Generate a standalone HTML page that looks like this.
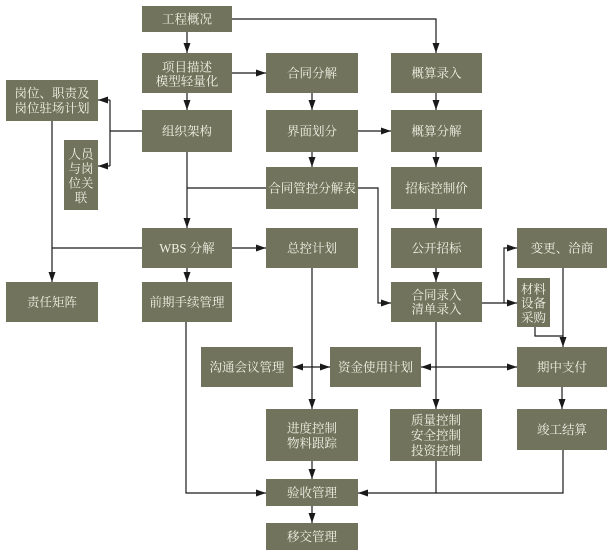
<!DOCTYPE html>
<html><head><meta charset="utf-8"><style>
html,body{margin:0;padding:0;background:#fff;}
svg{display:block;}
text{font-family:"Liberation Serif","Noto Serif CJK SC",serif;font-size:12.5px;fill:#f2f2e6;text-anchor:middle;}
</style></head><body>
<svg width="612" height="555" viewBox="0 0 612 555" xmlns="http://www.w3.org/2000/svg">
<defs>
<marker id="a" markerWidth="10" markerHeight="7" refX="10" refY="3.5" orient="auto-start-reverse" markerUnits="userSpaceOnUse"><path d="M0,0 L10,3.5 L0,7 z" fill="#1a1a1a"/></marker>
</defs>
<g fill="#71735c">
<rect x="142" y="6" width="90" height="26"/>
<rect x="142" y="53" width="90" height="40"/>
<rect x="142" y="110" width="90" height="42"/>
<rect x="266" y="53" width="92" height="40"/>
<rect x="266" y="110" width="92" height="42"/>
<rect x="266" y="167" width="92" height="42"/>
<rect x="391" y="53" width="91" height="40"/>
<rect x="391" y="110" width="91" height="42"/>
<rect x="391" y="167" width="91" height="42"/>
<rect x="6" y="80" width="92" height="41"/>
<rect x="64" y="140" width="34" height="70"/>
<rect x="142" y="228" width="90" height="40"/>
<rect x="6" y="282" width="92" height="40"/>
<rect x="142" y="282" width="90" height="40"/>
<rect x="266" y="228" width="92" height="40"/>
<rect x="391" y="228" width="91" height="40"/>
<rect x="391" y="282" width="91" height="40"/>
<rect x="517" y="228" width="90" height="40"/>
<rect x="517" y="278" width="33" height="49"/>
<rect x="201" y="347" width="92" height="40"/>
<rect x="330" y="347" width="91" height="40"/>
<rect x="517" y="347" width="90" height="40"/>
<rect x="266" y="409" width="92" height="52"/>
<rect x="390" y="409" width="92" height="52"/>
<rect x="517" y="409" width="90" height="41"/>
<rect x="266" y="479" width="92" height="27"/>
<rect x="266" y="523" width="92" height="27"/>
</g>
<g fill="none" stroke="#1a1a1a" stroke-width="1.2">
<path d="M232,19 H436 V53" marker-end="url(#a)"/>
<path d="M187,32 V53" marker-end="url(#a)"/>
<path d="M232,73 H266" marker-end="url(#a)"/>
<path d="M187,93 V110" marker-end="url(#a)"/>
<path d="M312,93 V110" marker-end="url(#a)"/>
<path d="M358,131 H391" marker-end="url(#a)"/>
<path d="M312,152 V167" marker-end="url(#a)"/>
<path d="M436,93 V110" marker-end="url(#a)"/>
<path d="M436,152 V167" marker-end="url(#a)"/>
<path d="M436,209 V228" marker-end="url(#a)"/>
<path d="M436,268 V282" marker-end="url(#a)"/>
<path d="M358,188 H378 V303 H391" marker-end="url(#a)"/>
<path d="M142,131 H110"/>
<path d="M110,100 V166"/>
<path d="M110,100 H98" marker-end="url(#a)"/>
<path d="M110,166 H98" marker-end="url(#a)"/>
<path d="M187,152 V228" marker-end="url(#a)"/>
<path d="M187,188 H266"/>
<path d="M142,248 H52"/>
<path d="M52,121 V282" marker-end="url(#a)"/>
<path d="M232,248 H266" marker-end="url(#a)"/>
<path d="M187,268 V282" marker-end="url(#a)"/>
<path d="M186,322 V493 H266" marker-end="url(#a)"/>
<path d="M312,268 V409" marker-end="url(#a)"/>
<path d="M293,367 H330" marker-start="url(#a)" marker-end="url(#a)"/>
<path d="M436,322 V409" marker-end="url(#a)"/>
<path d="M421,367 H517" marker-start="url(#a)" marker-end="url(#a)"/>
<path d="M482,303 H517" marker-end="url(#a)"/>
<path d="M504,303 V248 H517" marker-end="url(#a)"/>
<path d="M563,268 V347" marker-end="url(#a)"/>
<path d="M535,327 V336 H563"/>
<path d="M562,387 V409" marker-end="url(#a)"/>
<path d="M312,461 V479" marker-end="url(#a)"/>
<path d="M436,461 V493"/>
<path d="M563,450 V493 H358" marker-end="url(#a)"/>
<path d="M312,506 V523" marker-end="url(#a)"/>
</g>
<g>
<text x="187" y="23.5">工程概况</text>
<text x="187" y="71.5">项目描述</text>
<text x="187" y="85.5">模型轻量化</text>
<text x="187" y="135.5">组织架构</text>
<text x="312" y="77.5">合同分解</text>
<text x="312" y="135.5">界面划分</text>
<text x="312" y="192.5">合同管控分解表</text>
<text x="436.5" y="77.5">概算录入</text>
<text x="436.5" y="135.5">概算分解</text>
<text x="436.5" y="192.5">招标控制价</text>
<text x="52" y="97.5">岗位、职责及</text>
<text x="52" y="112.5">岗位驻场计划</text>
<text x="81" y="158.5">人员</text>
<text x="81" y="173">与岗</text>
<text x="81" y="187.5">位关</text>
<text x="81" y="202">联</text>
<text x="187" y="252.5">WBS 分解</text>
<text x="52" y="306.5">责任矩阵</text>
<text x="187" y="306.5">前期手续管理</text>
<text x="312" y="252.5">总控计划</text>
<text x="436.5" y="252.5">公开招标</text>
<text x="436.5" y="299.5">合同录入</text>
<text x="436.5" y="313.5">清单录入</text>
<text x="562" y="252.5">变更、洽商</text>
<text x="533.5" y="293.5">材料</text>
<text x="533.5" y="307.5">设备</text>
<text x="533.5" y="322">采购</text>
<text x="247" y="371.5">沟通会议管理</text>
<text x="375.5" y="371.5">资金使用计划</text>
<text x="562" y="371.5">期中支付</text>
<text x="312" y="432.5">进度控制</text>
<text x="312" y="447.5">物料跟踪</text>
<text x="436" y="424.5">质量控制</text>
<text x="436" y="439.5">安全控制</text>
<text x="436" y="455">投资控制</text>
<text x="562" y="434">竣工结算</text>
<text x="312" y="497">验收管理</text>
<text x="312" y="541">移交管理</text>
</g>
</svg>
</body></html>
